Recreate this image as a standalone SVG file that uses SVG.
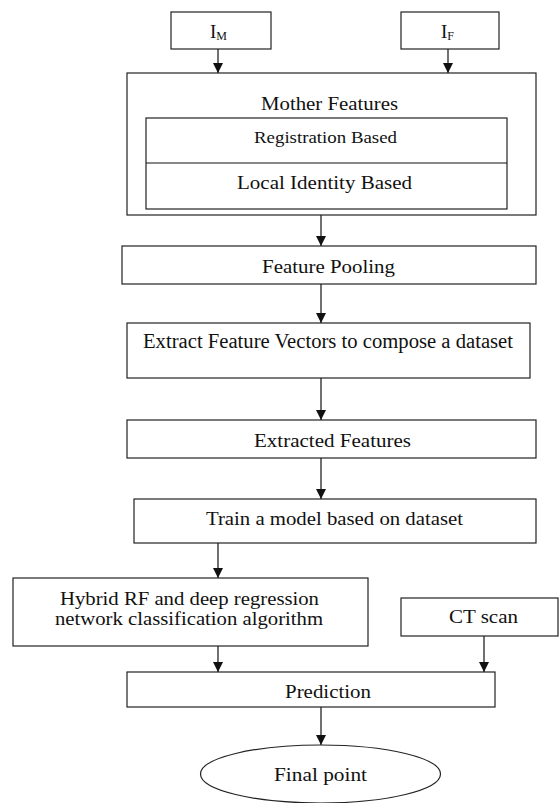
<svg xmlns="http://www.w3.org/2000/svg" width="560" height="803" viewBox="0 0 560 803">
<style>
.b{fill:#fff;stroke:#222;stroke-width:1.2}
.t{font-family:'Liberation Serif','DejaVu Serif','Times New Roman',serif;font-size:19px;fill:#111}
.c{stroke:#111;stroke-width:1.2;fill:none}
</style>
<defs>
<marker id="ah" markerUnits="userSpaceOnUse" markerWidth="11" markerHeight="10" refX="10" refY="5" orient="auto" viewBox="0 0 11 10">
<path d="M0,0 L10,5 L0,10 Z" fill="#111"/>
</marker>
</defs>
<rect width="560" height="803" fill="#fff"/>
<g id="connectors">
<path class="c" d="M218,49 V73" marker-end="url(#ah)"/>
<path class="c" d="M448,49 V73" marker-end="url(#ah)"/>
<path class="c" d="M321,215 V246" marker-end="url(#ah)"/>
<path class="c" d="M321,284 V323" marker-end="url(#ah)"/>
<path class="c" d="M321,378 V420" marker-end="url(#ah)"/>
<path class="c" d="M321,458 V499" marker-end="url(#ah)"/>
<path class="c" d="M218,543 V578" marker-end="url(#ah)"/>
<path class="c" d="M218,646 V672" marker-end="url(#ah)"/>
<path class="c" d="M484,636 V672" marker-end="url(#ah)"/>
<path class="c" d="M321,707 V745" marker-end="url(#ah)"/>
</g>
<g id="im">
<rect class="b" x="171" y="12" width="100" height="37"/>
<text class="t" font-family="Liberation Serif, serif" x="210" y="38">I<tspan style="font-size:12px" dy="2">M</tspan></text>
</g>
<g id="if">
<rect class="b" x="401" y="12" width="98" height="37"/>
<text class="t" font-family="Liberation Serif, serif" x="441" y="38">I<tspan style="font-size:12px" dy="2">F</tspan></text>
</g>
<g id="mother">
<rect class="b" x="127" y="73" width="409" height="142"/>
<text class="t" x="261" y="110" textLength="137" lengthAdjust="spacingAndGlyphs">Mother Features</text>
<rect class="b" x="146" y="118" width="361" height="91"/>
<line class="c" x1="146" y1="163" x2="507" y2="163"/>
<text class="t" x="254" y="143" style="font-size:17px" textLength="143" lengthAdjust="spacingAndGlyphs">Registration Based</text>
<text class="t" x="237" y="189" textLength="175" lengthAdjust="spacingAndGlyphs">Local Identity Based</text>
</g>
<g id="pooling">
<rect class="b" x="122" y="246" width="414" height="38"/>
<text class="t" x="262" y="273" textLength="133" lengthAdjust="spacingAndGlyphs">Feature Pooling</text>
</g>
<g id="extract">
<rect class="b" x="127" y="323" width="403" height="55"/>
<text class="t" x="143" y="348" style="font-size:20px" textLength="370" lengthAdjust="spacingAndGlyphs">Extract Feature Vectors to compose a dataset</text>
</g>
<g id="extracted">
<rect class="b" x="127" y="420" width="409" height="38"/>
<text class="t" x="254" y="447" textLength="157" lengthAdjust="spacingAndGlyphs">Extracted Features</text>
</g>
<g id="train">
<rect class="b" x="134" y="499" width="402" height="44"/>
<text class="t" x="206" y="525" textLength="257" lengthAdjust="spacingAndGlyphs">Train a model based on dataset</text>
</g>
<g id="hybrid">
<rect class="b" x="13" y="578" width="355" height="68"/>
<text class="t" x="60" y="605" style="font-size:18px" textLength="259" lengthAdjust="spacingAndGlyphs">Hybrid RF and deep regression</text>
<text class="t" x="55" y="625" style="font-size:18px" textLength="268" lengthAdjust="spacingAndGlyphs">network classification algorithm</text>
</g>
<g id="ct">
<rect class="b" x="401" y="598" width="157" height="38"/>
<text class="t" x="449" y="623" textLength="69" lengthAdjust="spacingAndGlyphs">CT scan</text>
</g>
<g id="prediction">
<rect class="b" x="127" y="672" width="368" height="35"/>
<text class="t" x="285" y="698" textLength="86" lengthAdjust="spacingAndGlyphs">Prediction</text>
</g>
<g id="final">
<ellipse class="b" cx="320.5" cy="774" rx="120" ry="29"/>
<text class="t" x="274" y="781" textLength="93" lengthAdjust="spacingAndGlyphs">Final point</text>
</g>
</svg>
